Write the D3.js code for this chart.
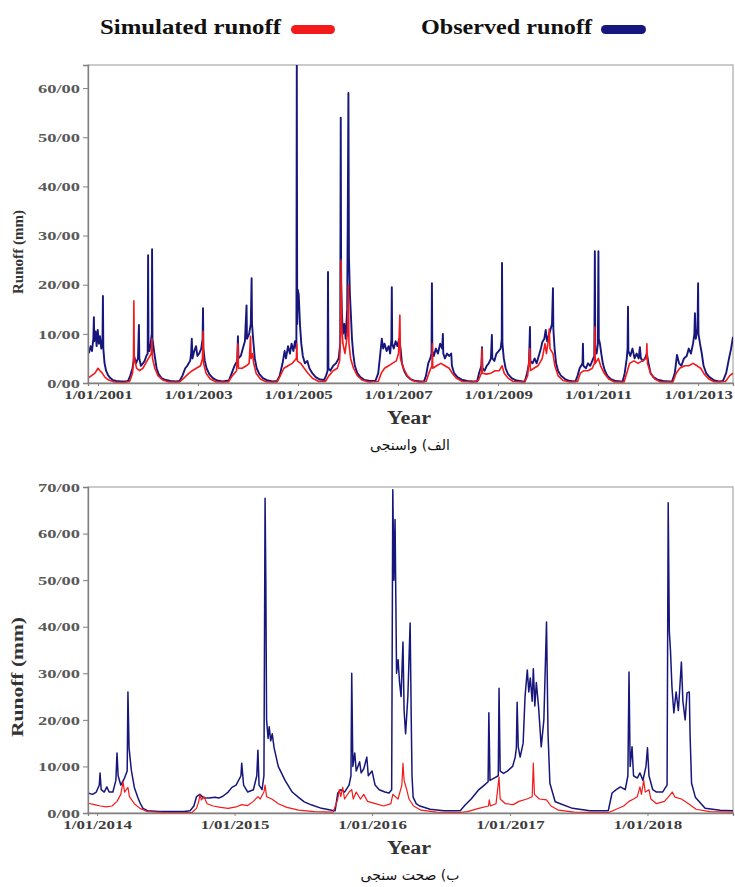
<!DOCTYPE html>
<html><head><meta charset="utf-8">
<script src="https://cdn.jsdelivr.net/npm/d3@7"></script>
<style>body{margin:0;background:#fff}svg{display:block}</style>
</head><body>
<svg id="c" width="735" height="887"></svg>
<script>
// ---------------- DATA ----------------
const seriesNames = ["Simulated runoff", "Observed runoff"];
const yAxisTitle = "Runoff (mm)";
const xAxisTitle = "Year";
const captions = ["الف) واسنجی", "ب) صحت سنجی"];

const calXDomain = ["2000-10-20", "2013-09-13"];
const calXTicks = ["2001-01-01","2003-01-01","2005-01-01","2007-01-01","2009-01-01","2011-01-01","2013-01-01"];
const calYTicks = [0,10,20,30,40,50,60];
const calYMax = 64.7;

const valXDomain = ["2013-12-08", "2018-08-16"];
const valXTicks = ["2014-01-01","2015-01-01","2016-01-01","2017-01-01","2018-01-01"];
const valYTicks = [0,10,20,30,40,50,60,70];
const valYMax = 70;

// Calibration – observed runoff (mm)
const calObserved = [
["2000-10-20",7.0],["2000-10-28",6.2],["2000-11-08",7.5],["2000-11-18",6.5],["2000-11-28",9.0],["2000-12-02",13.4],["2000-12-05",8.5],["2000-12-14",10.5],["2000-12-22",7.5],["2000-12-30",10.8],["2001-01-08",8.0],["2001-01-16",9.5],["2001-01-25",7.0],["2001-02-03",9.0],["2001-02-06",17.7],["2001-02-09",7.0],["2001-02-18",4.0],["2001-03-01",2.5],["2001-03-15",1.6],["2001-04-01",1.0],["2001-04-20",0.6],["2001-05-15",0.4],["2001-06-20",0.3],["2001-07-25",0.3],
["2001-08-10",0.5],["2001-08-25",1.5],["2001-09-10",3.0],["2001-09-18",4.5],["2001-09-22",5.5],["2001-10-05",4.0],["2001-10-20",5.0],["2001-10-27",11.8],["2001-10-30",5.0],["2001-11-10",3.5],["2001-11-25",4.0],["2001-12-08",4.5],["2001-12-20",5.5],["2001-12-30",6.0],["2002-01-02",26.0],["2002-01-05",8.0],["2002-01-12",6.5],["2002-01-20",8.0],["2002-01-29",10.0],["2002-01-31",27.2],["2002-02-03",9.0],["2002-02-12",7.0],["2002-02-22",5.0],["2002-03-05",3.0],["2002-03-20",1.8],["2002-04-10",1.0],["2002-05-10",0.6],["2002-06-15",0.4],["2002-07-25",0.3],
["2002-08-20",0.4],["2002-09-10",1.5],["2002-09-30",3.0],["2002-10-15",3.5],["2002-11-05",4.5],["2002-11-12",6.0],["2002-11-17",9.0],["2002-11-22",5.0],["2002-12-05",6.5],["2002-12-18",7.5],["2002-12-28",5.5],["2003-01-10",6.0],["2003-01-25",7.0],["2003-02-04",9.0],["2003-02-07",15.2],["2003-02-10",7.0],["2003-02-20",4.5],["2003-03-05",3.0],["2003-03-25",1.8],["2003-04-20",1.0],["2003-05-20",0.5],["2003-07-01",0.3],
["2003-08-15",0.5],["2003-09-05",2.0],["2003-09-25",3.5],["2003-10-15",4.5],["2003-10-20",9.5],["2003-10-24",5.0],["2003-11-10",5.5],["2003-11-25",7.0],["2003-12-10",8.5],["2003-12-22",15.8],["2003-12-25",9.0],["2004-01-10",10.0],["2004-01-22",12.0],["2004-01-28",21.3],["2004-01-31",12.0],["2004-02-08",9.0],["2004-02-20",5.0],["2004-03-05",3.0],["2004-03-25",1.8],["2004-04-20",1.0],["2004-05-25",0.5],["2004-07-01",0.3],
["2004-08-01",0.4],["2004-08-20",1.5],["2004-09-10",4.0],["2004-09-25",6.5],["2004-10-05",5.0],["2004-10-20",7.5],["2004-11-03",6.0],["2004-11-15",8.0],["2004-11-28",6.5],["2004-12-10",8.5],["2004-12-20",7.0],["2004-12-23",66.0],["2004-12-26",12.0],["2004-12-30",19.0],["2005-01-06",18.0],["2005-01-15",12.0],["2005-01-25",8.0],["2005-02-05",5.5],["2005-02-20",4.0],["2005-03-10",4.5],["2005-03-25",3.0],["2005-04-15",2.0],["2005-05-10",1.2],["2005-06-10",0.7],
["2005-07-10",0.6],["2005-07-25",1.5],["2005-08-05",2.5],["2005-08-08",22.6],["2005-08-11",3.0],["2005-08-25",2.5],["2005-09-15",3.5],["2005-10-05",4.0],["2005-10-25",5.0],["2005-11-05",8.0],["2005-11-09",54.0],["2005-11-12",20.0],["2005-11-18",14.0],["2005-11-25",10.0],["2005-12-05",12.0],["2005-12-15",9.0],["2005-12-26",15.0],["2005-12-30",32.5],["2006-01-04",59.0],["2006-01-08",25.6],["2006-01-15",18.0],["2006-01-22",14.0],["2006-01-30",9.0],["2006-02-08",6.0],["2006-02-20",3.5],["2006-03-10",2.0],["2006-04-01",1.2],["2006-05-01",0.6],["2006-06-10",0.4],
["2006-07-20",0.4],["2006-08-10",2.0],["2006-08-25",6.0],["2006-09-05",9.0],["2006-09-15",7.0],["2006-09-25",8.0],["2006-10-10",6.5],["2006-10-25",7.5],["2006-11-05",6.0],["2006-11-14",9.0],["2006-11-17",19.5],["2006-11-20",8.0],["2006-12-01",7.0],["2006-12-15",8.5],["2006-12-28",7.5],["2007-01-10",9.0],["2007-01-20",7.0],["2007-01-30",4.0],["2007-02-15",2.5],["2007-03-05",1.5],["2007-04-01",0.8],["2007-05-10",0.4],["2007-06-20",0.3],
["2007-07-10",0.3],["2007-07-25",1.5],["2007-08-10",4.0],["2007-08-25",5.0],["2007-09-03",6.0],["2007-09-06",20.3],["2007-09-09",6.5],["2007-09-20",5.5],["2007-10-05",7.0],["2007-10-20",6.0],["2007-11-05",8.0],["2007-11-20",7.0],["2007-11-25",10.0],["2007-11-28",6.0],["2007-12-10",5.0],["2007-12-25",6.0],["2008-01-10",5.5],["2008-01-25",6.0],["2008-01-30",3.5],["2008-02-15",2.0],["2008-03-10",1.2],["2008-04-10",0.7],["2008-05-20",0.4],["2008-06-30",0.3],
["2008-08-01",0.3],["2008-08-15",2.0],["2008-09-01",3.5],["2008-09-06",7.3],["2008-09-09",3.0],["2008-09-25",2.5],["2008-10-10",3.5],["2008-10-25",4.0],["2008-11-10",5.0],["2008-11-17",9.8],["2008-11-20",5.0],["2008-12-05",4.5],["2008-12-20",6.0],["2009-01-05",6.5],["2009-01-20",7.0],["2009-01-28",9.0],["2009-01-30",24.4],["2009-02-02",8.0],["2009-02-12",5.0],["2009-02-25",3.0],["2009-03-15",1.8],["2009-04-10",1.0],["2009-05-15",0.5],["2009-06-30",0.3],
["2009-07-15",0.3],["2009-08-01",2.0],["2009-08-15",4.0],["2009-08-22",11.4],["2009-08-25",4.5],["2009-09-10",4.0],["2009-09-25",5.0],["2009-10-10",4.0],["2009-10-25",5.5],["2009-11-10",7.0],["2009-11-20",8.3],["2009-12-05",9.0],["2009-12-15",10.8],["2009-12-25",8.5],["2010-01-10",10.0],["2010-01-20",11.0],["2010-01-30",12.0],["2010-02-06",19.3],["2010-02-09",11.0],["2010-02-18",7.0],["2010-03-01",4.0],["2010-03-15",2.5],["2010-04-05",1.5],["2010-05-05",0.8],["2010-06-10",0.4],
["2010-07-20",0.3],["2010-08-05",1.5],["2010-08-20",3.0],["2010-09-10",4.0],["2010-09-13",8.0],["2010-09-16",3.5],["2010-10-05",3.0],["2010-10-20",4.0],["2010-11-05",3.5],["2010-11-20",4.5],["2010-12-05",5.5],["2010-12-09",26.8],["2010-12-12",7.0],["2010-12-22",6.0],["2010-12-31",8.0],["2011-01-04",26.8],["2011-01-07",9.0],["2011-01-15",8.0],["2011-01-25",6.0],["2011-02-05",4.0],["2011-02-20",2.5],["2011-03-10",1.5],["2011-04-05",0.8],["2011-05-10",0.4],["2011-06-20",0.3],
["2011-06-30",0.3],["2011-07-15",2.0],["2011-07-30",5.0],["2011-08-05",7.0],["2011-08-08",15.5],["2011-08-11",6.5],["2011-08-25",5.5],["2011-09-10",7.0],["2011-09-25",5.0],["2011-10-10",6.0],["2011-10-25",5.0],["2011-11-03",7.3],["2011-11-10",5.0],["2011-11-25",4.5],["2011-12-10",5.0],["2011-12-24",6.0],["2012-01-05",4.0],["2012-01-20",2.0],["2012-02-10",1.2],["2012-03-10",0.7],["2012-04-20",0.4],["2012-06-01",0.3],
["2012-06-25",0.3],["2012-07-15",2.0],["2012-07-31",5.7],["2012-08-15",4.0],["2012-09-01",3.5],["2012-09-20",5.0],["2012-10-10",5.5],["2012-10-25",7.0],["2012-11-10",6.0],["2012-11-25",8.0],["2012-12-05",10.0],["2012-12-09",14.2],["2012-12-15",9.0],["2012-12-28",11.0],["2013-01-01",20.3],["2013-01-04",10.0],["2013-01-15",8.0],["2013-01-28",6.0],["2013-02-10",3.5],["2013-03-01",2.0],["2013-03-25",1.2],["2013-04-25",0.6],["2013-06-01",0.3],["2013-07-01",0.4],["2013-07-25",2.0],["2013-08-15",5.0],["2013-08-30",7.0],["2013-09-13",9.4]
];

// Calibration – simulated runoff (mm)
const calSimulated = [
["2000-10-20",1.0],["2000-11-15",1.5],["2000-12-10",2.0],["2001-01-01",3.0],["2001-01-15",2.5],["2001-02-01",2.0],["2001-02-20",1.2],["2001-03-20",0.6],["2001-05-01",0.2],["2001-07-01",0.1],
["2001-08-20",0.3],["2001-09-10",2.0],["2001-09-17",4.0],["2001-09-20",16.7],["2001-09-23",5.0],["2001-10-10",3.0],["2001-11-01",2.5],["2001-11-25",3.0],["2001-12-15",4.0],["2002-01-05",5.0],["2002-01-25",6.0],["2002-01-30",9.0],["2002-02-03",5.0],["2002-02-20",3.0],["2002-03-15",1.5],["2002-04-20",0.6],["2002-06-01",0.2],
["2002-08-20",0.2],["2002-09-20",1.0],["2002-10-20",1.8],["2002-11-20",2.5],["2002-12-20",3.0],["2003-01-20",3.5],["2003-02-03",5.0],["2003-02-07",10.5],["2003-02-11",4.0],["2003-03-01",2.0],["2003-04-01",0.8],["2003-05-15",0.2],
["2003-08-10",0.2],["2003-09-10",1.5],["2003-10-10",2.5],["2003-10-20",8.0],["2003-10-24",3.0],["2003-11-20",3.0],["2003-12-20",3.5],["2004-01-10",4.0],["2004-01-20",9.5],["2004-01-24",5.0],["2004-02-05",6.0],["2004-02-12",4.0],["2004-03-01",2.0],["2004-04-01",0.8],["2004-05-15",0.2],
["2004-08-01",0.2],["2004-08-25",1.5],["2004-09-20",3.0],["2004-10-20",3.5],["2004-11-20",4.0],["2004-12-20",5.0],["2004-12-23",8.0],["2004-12-27",4.5],["2005-01-20",4.0],["2005-02-15",3.0],["2005-03-15",2.0],["2005-04-15",1.0],["2005-06-01",0.3],
["2005-07-20",0.3],["2005-08-15",1.5],["2005-09-15",2.5],["2005-10-15",3.0],["2005-11-01",4.5],["2005-11-08",10.0],["2005-11-12",25.0],["2005-11-16",12.0],["2005-11-25",8.0],["2005-12-10",6.0],["2005-12-28",10.0],["2006-01-04",20.0],["2006-01-08",8.0],["2006-01-20",5.0],["2006-02-10",3.0],["2006-03-10",1.5],["2006-04-15",0.6],["2006-06-01",0.2],
["2006-08-10",0.3],["2006-09-01",2.0],["2006-09-25",3.0],["2006-10-25",3.5],["2006-11-20",4.0],["2006-12-20",4.5],["2007-01-05",6.0],["2007-01-15",13.8],["2007-01-19",5.0],["2007-02-10",3.0],["2007-03-10",1.5],["2007-04-15",0.5],["2007-06-01",0.2],
["2007-07-25",0.3],["2007-08-15",2.0],["2007-09-06",3.5],["2007-09-09",8.0],["2007-09-12",3.0],["2007-10-10",3.5],["2007-11-10",4.0],["2007-12-10",3.5],["2008-01-10",3.0],["2008-02-01",2.0],["2008-03-01",1.0],["2008-04-15",0.3],["2008-07-01",0.2],
["2008-08-10",0.5],["2008-09-01",2.0],["2008-09-06",7.0],["2008-09-09",2.0],["2008-10-10",1.8],["2008-11-10",2.0],["2008-12-10",2.5],["2009-01-10",2.5],["2009-01-30",3.5],["2009-02-15",2.0],["2009-03-15",1.0],["2009-04-20",0.3],
["2009-07-15",0.2],["2009-08-05",1.5],["2009-08-22",7.0],["2009-08-25",2.5],["2009-09-20",3.0],["2009-10-20",3.5],["2009-11-20",5.0],["2009-12-10",8.0],["2009-12-20",6.0],["2010-01-05",9.0],["2010-01-10",11.0],["2010-01-15",7.0],["2010-02-06",6.0],["2010-02-20",3.5],["2010-03-15",1.5],["2010-04-20",0.5],["2010-06-10",0.2],
["2010-08-05",0.3],["2010-08-25",2.0],["2010-09-20",2.5],["2010-10-20",2.5],["2010-11-20",3.0],["2010-12-06",4.0],["2010-12-09",11.4],["2010-12-12",4.0],["2011-01-04",5.0],["2011-01-20",3.5],["2011-02-15",2.0],["2011-03-20",0.8],["2011-05-01",0.2],
["2011-07-10",0.2],["2011-07-30",2.0],["2011-08-20",4.0],["2011-09-20",4.5],["2011-10-20",4.0],["2011-11-20",4.5],["2011-12-20",5.0],["2011-12-24",8.0],["2011-12-28",4.0],["2012-01-20",2.0],["2012-02-20",0.8],["2012-04-01",0.2],
["2012-07-01",0.2],["2012-07-25",2.0],["2012-08-20",3.0],["2012-09-25",3.5],["2012-10-25",3.5],["2012-11-25",4.0],["2012-12-25",3.5],["2013-01-20",3.0],["2013-02-15",1.8],["2013-03-20",0.8],["2013-05-01",0.2],["2013-07-20",0.3],["2013-08-20",1.5],["2013-09-13",2.0]
];

// Validation – observed runoff (mm)
const valObserved = [
["2013-12-08",4.3],["2013-12-20",4.0],["2013-12-30",4.5],["2014-01-07",6.0],["2014-01-09",8.6],["2014-01-12",5.0],["2014-01-20",4.5],["2014-01-27",5.6],["2014-02-02",4.5],["2014-02-12",4.5],["2014-02-20",7.0],["2014-02-23",12.9],["2014-02-26",8.0],["2014-03-05",6.0],["2014-03-15",7.5],["2014-03-22",9.0],["2014-03-24",26.0],["2014-03-27",14.0],["2014-04-02",9.2],["2014-04-10",5.5],["2014-04-19",3.4],["2014-04-26",2.0],["2014-05-03",1.0],["2014-05-15",0.5],["2014-06-15",0.3],["2014-08-20",0.3],
["2014-09-05",0.5],["2014-09-15",1.5],["2014-09-22",3.5],["2014-10-01",4.0],["2014-10-10",3.3],["2014-10-25",3.2],["2014-11-10",3.4],["2014-11-20",3.2],["2014-12-01",3.6],["2014-12-15",4.5],["2014-12-25",5.5],["2015-01-05",6.0],["2015-01-18",8.0],["2015-01-20",10.7],["2015-01-25",6.0],["2015-02-05",4.5],["2015-02-20",5.0],["2015-03-01",8.0],["2015-03-04",13.5],["2015-03-07",6.0],["2015-03-15",5.0],["2015-03-20",8.0],["2015-03-23",67.6],["2015-03-25",50.0],["2015-03-27",20.0],["2015-03-31",16.0],["2015-04-03",18.5],["2015-04-07",15.5],["2015-04-11",17.0],["2015-04-16",14.0],["2015-04-27",10.0],["2015-05-15",7.0],["2015-06-03",4.5],["2015-06-19",3.4],["2015-07-05",2.4],["2015-07-25",1.7],["2015-08-20",1.0],["2015-09-16",0.6],["2015-09-25",0.5],
["2015-10-02",4.3],["2015-10-10",5.0],["2015-10-20",4.5],["2015-11-01",6.0],["2015-11-06",8.0],["2015-11-08",30.0],["2015-11-11",10.0],["2015-11-16",12.9],["2015-11-20",9.0],["2015-11-29",11.0],["2015-12-03",8.6],["2015-12-10",9.5],["2015-12-18",12.0],["2015-12-22",8.0],["2016-01-01",9.0],["2016-01-09",6.0],["2016-01-20",5.0],["2016-02-04",4.5],["2016-02-15",4.3],["2016-02-22",5.0],["2016-02-25",69.4],["2016-02-28",50.0],["2016-03-02",63.0],["2016-03-06",30.0],["2016-03-10",32.9],["2016-03-14",28.0],["2016-03-18",25.0],["2016-03-23",36.7],["2016-03-26",22.0],["2016-03-30",17.0],["2016-04-05",25.0],["2016-04-11",40.8],["2016-04-14",20.0],["2016-04-16",8.0],["2016-04-19",3.4],["2016-04-27",2.0],["2016-05-07",1.5],["2016-06-03",0.8],["2016-07-10",0.5],["2016-08-22",0.5],
["2016-09-04",1.7],["2016-09-20",3.0],["2016-10-09",4.9],["2016-10-25",6.0],["2016-11-04",6.7],["2016-11-06",21.5],["2016-11-09",7.0],["2016-11-20",7.5],["2016-12-01",8.0],["2016-12-03",26.8],["2016-12-06",9.0],["2016-12-15",8.5],["2016-12-25",9.0],["2017-01-08",10.0],["2017-01-15",12.0],["2017-01-18",14.0],["2017-01-20",23.8],["2017-01-23",14.2],["2017-01-28",12.0],["2017-02-05",15.0],["2017-02-10",25.0],["2017-02-16",30.7],["2017-02-20",26.0],["2017-02-24",29.0],["2017-03-01",24.0],["2017-03-04",31.0],["2017-03-08",23.0],["2017-03-12",28.0],["2017-03-18",22.7],["2017-03-25",14.2],["2017-04-01",20.0],["2017-04-08",41.0],["2017-04-12",17.0],["2017-04-17",6.4],["2017-05-01",2.4],["2017-06-16",1.0],["2017-08-01",0.5],["2017-09-19",0.5],
["2017-09-29",4.3],["2017-10-10",5.0],["2017-10-21",5.6],["2017-11-03",5.0],["2017-11-10",8.0],["2017-11-13",30.3],["2017-11-16",10.0],["2017-11-21",14.2],["2017-11-25",8.0],["2017-12-05",7.5],["2017-12-12",8.6],["2017-12-20",7.0],["2017-12-28",10.0],["2018-01-01",14.0],["2018-01-05",8.0],["2018-01-15",5.0],["2018-01-25",4.5],["2018-02-10",4.5],["2018-02-22",6.0],["2018-02-25",66.6],["2018-02-28",39.0],["2018-03-03",35.0],["2018-03-07",27.0],["2018-03-12",21.5],["2018-03-18",26.0],["2018-03-24",22.0],["2018-04-01",32.4],["2018-04-05",24.0],["2018-04-11",20.0],["2018-04-16",25.8],["2018-04-22",26.0],["2018-04-24",17.0],["2018-04-28",6.4],["2018-05-08",3.4],["2018-06-03",1.0],["2018-07-13",0.6],["2018-08-16",0.5]
];

// Validation – simulated runoff (mm)
const valSimulated = [
["2013-12-08",2.1],["2013-12-25",1.8],["2014-01-10",1.5],["2014-01-25",1.3],["2014-02-10",1.5],["2014-02-23",2.5],["2014-03-05",4.0],["2014-03-11",6.7],["2014-03-15",4.5],["2014-03-24",5.5],["2014-03-28",3.5],["2014-04-10",2.0],["2014-04-25",1.0],["2014-05-15",0.3],["2014-07-01",0.1],
["2014-09-10",0.1],["2014-09-22",1.0],["2014-09-28",2.5],["2014-10-01",3.9],["2014-10-05",2.8],["2014-10-12",3.5],["2014-10-20",2.0],["2014-11-05",1.5],["2014-11-25",1.2],["2014-12-15",1.0],["2015-01-05",1.3],["2015-01-20",1.8],["2015-02-05",1.6],["2015-02-20",2.5],["2015-03-04",3.5],["2015-03-10",3.0],["2015-03-20",4.5],["2015-03-23",6.0],["2015-03-27",3.5],["2015-04-10",3.0],["2015-04-27",2.0],["2015-05-20",1.2],["2015-06-20",0.6],["2015-08-01",0.3],["2015-09-20",0.2],
["2015-10-02",3.0],["2015-10-06",5.0],["2015-10-10",3.5],["2015-10-15",5.5],["2015-10-20",3.0],["2015-11-01",4.5],["2015-11-08",5.0],["2015-11-12",3.0],["2015-11-20",4.5],["2015-12-01",3.0],["2015-12-10",4.0],["2015-12-20",2.5],["2016-01-10",2.0],["2016-02-01",1.5],["2016-02-20",2.0],["2016-02-25",4.0],["2016-03-10",3.0],["2016-03-20",6.0],["2016-03-23",10.7],["2016-03-26",7.0],["2016-04-02",5.0],["2016-04-08",3.0],["2016-04-20",1.5],["2016-05-10",0.6],["2016-06-20",0.2],["2016-08-20",0.1],
["2016-09-10",0.3],["2016-10-10",1.0],["2016-11-05",1.5],["2016-11-07",2.8],["2016-11-10",1.5],["2016-11-25",2.0],["2016-12-03",7.7],["2016-12-06",3.0],["2016-12-20",2.0],["2017-01-10",1.8],["2017-01-25",2.5],["2017-02-15",3.0],["2017-03-01",3.5],["2017-03-04",10.7],["2017-03-07",4.0],["2017-03-20",3.0],["2017-04-08",2.8],["2017-04-20",1.5],["2017-05-10",0.6],["2017-06-20",0.2],["2017-09-20",0.1],
["2017-10-10",0.8],["2017-10-30",1.5],["2017-11-13",2.5],["2017-11-25",3.0],["2017-12-05",3.5],["2017-12-12",5.6],["2017-12-16",4.0],["2017-12-22",7.0],["2017-12-26",4.5],["2018-01-05",5.0],["2018-01-10",3.0],["2018-01-25",2.0],["2018-02-15",2.5],["2018-02-25",3.4],["2018-03-08",4.5],["2018-03-15",3.4],["2018-04-01",3.0],["2018-04-20",2.0],["2018-05-10",0.8],["2018-06-15",0.3],["2018-08-16",0.2]
];

// ---------------- DRAWING ----------------
const parse = d3.timeParse("%Y-%m-%d");
const serif = "'Liberation Serif','Times New Roman',serif";
const colObs = "#16167c", colSim = "#f21a1a";
const svg = d3.select("#c");

function stretch(sel, factor) {
  sel.each(function () {
    const w = this.getComputedTextLength();
    if (w > 0) {
      this.setAttribute("textLength", (w * factor).toFixed(1));
      this.setAttribute("lengthAdjust", "spacingAndGlyphs");
    }
  });
}

function drawPanel(cfg, idx) {
  const x = d3.scaleTime().domain(cfg.xDomain.map(parse)).range([cfg.left, cfg.right]);
  const y = d3.scaleLinear().domain([0, cfg.yMax]).range([cfg.bottom, cfg.top]);
  const g = svg.append("g");

  const clipId = "clip" + idx;
  g.append("clipPath").attr("id", clipId).append("rect")
    .attr("x", cfg.left).attr("y", cfg.top)
    .attr("width", cfg.right - cfg.left).attr("height", cfg.bottom - cfg.top);

  g.append("rect").attr("x", cfg.left).attr("y", cfg.top)
    .attr("width", cfg.right - cfg.left).attr("height", cfg.bottom - cfg.top)
    .attr("fill", "none").attr("stroke", "#a8a8a8").attr("stroke-width", 1.2);

  const line = d3.line().x(d => x(parse(d[0]))).y(d => y(d[1]));
  const lg = g.append("g").attr("clip-path", `url(#${clipId})`);
  lg.append("path").datum(cfg.obs).attr("d", line)
    .attr("fill", "none").attr("stroke", colObs).attr("stroke-width", cfg.obsW).attr("stroke-linejoin", "round");
  lg.append("path").datum(cfg.sim).attr("d", line)
    .attr("fill", "none").attr("stroke", colSim).attr("stroke-width", cfg.simW).attr("stroke-linejoin", "round");

  const ya = g.append("g").attr("transform", `translate(${cfg.left},0)`)
    .call(d3.axisLeft(y).tickValues(cfg.yTicks).tickFormat(d => d + "/00").tickSize(5).tickPadding(3));
  ya.select(".domain").attr("stroke", "#808080").attr("stroke-width", 1.3);
  ya.selectAll(".tick line").attr("stroke", "#808080");
  ya.selectAll(".tick text").attr("font-family", serif).attr("font-weight", "bold")
    .attr("font-size", 13).attr("fill", "#5a5a5a").call(stretch, 1.42);

  const xa = g.append("g").attr("transform", `translate(0,${cfg.bottom})`)
    .call(d3.axisBottom(x).tickValues(cfg.xTicks.map(parse)).tickFormat(d3.timeFormat("%-m/%d/%Y")).tickSize(3).tickPadding(4));
  xa.select(".domain").attr("stroke", "#808080").attr("stroke-width", 1.3);
  xa.selectAll(".tick line").attr("stroke", "#808080");
  xa.selectAll(".tick text").attr("font-family", serif).attr("font-weight", "bold")
    .attr("font-size", 13).attr("fill", "#3c3c3c").call(stretch, 1.3);

  g.append("text").attr("x", 409).attr("y", cfg.bottom + 41).attr("text-anchor", "middle")
    .attr("font-family", serif).attr("font-weight", "bold").attr("font-size", 18).attr("fill", "#333")
    .text(xAxisTitle).call(stretch, 1.22);
  g.append("text").attr("transform", `translate(23,${cfg.yTitleY}) rotate(-90)`).attr("text-anchor", "middle")
    .attr("font-family", serif).attr("font-weight", "bold").attr("font-size", cfg.yTitleSize).attr("fill", "#333")
    .text(yAxisTitle).attr("textLength", cfg.yTitleLen).attr("lengthAdjust", "spacingAndGlyphs");
  g.append("text").attr("x", 410).attr("y", cfg.bottom + 67).attr("text-anchor", "middle")
    .attr("font-family", "'DejaVu Sans',sans-serif").attr("font-size", 14).attr("fill", "#111")
    .text(cfg.caption);
}

const legend = svg.append("g").attr("font-family", serif).attr("font-weight", "bold").attr("font-size", 21).attr("fill", "#111");
legend.append("text").attr("x", 100).attr("y", 34).text(seriesNames[0]).attr("textLength", 181).attr("lengthAdjust", "spacingAndGlyphs");
legend.append("rect").attr("x", 291).attr("y", 25).attr("width", 44).attr("height", 9).attr("rx", 4.5).attr("fill", colSim);
legend.append("text").attr("x", 421).attr("y", 34).text(seriesNames[1]).attr("textLength", 171).attr("lengthAdjust", "spacingAndGlyphs");
legend.append("rect").attr("x", 601).attr("y", 25).attr("width", 45).attr("height", 9).attr("rx", 4.5).attr("fill", colObs);

drawPanel({ left: 88, right: 733, top: 65, bottom: 383, xDomain: calXDomain, xTicks: calXTicks,
  yMax: calYMax, yTicks: calYTicks, obs: calObserved, sim: calSimulated, obsW: 1.9, simW: 1.6,
  yTitleY: 252, yTitleSize: 15, yTitleLen: 84, caption: captions[0] }, 0);
drawPanel({ left: 88, right: 733, top: 487, bottom: 813, xDomain: valXDomain, xTicks: valXTicks,
  yMax: valYMax, yTicks: valYTicks, obs: valObserved, sim: valSimulated, obsW: 1.5, simW: 1.2,
  yTitleY: 677, yTitleSize: 16, yTitleLen: 120, caption: captions[1] }, 1);
</script>
</body></html>
